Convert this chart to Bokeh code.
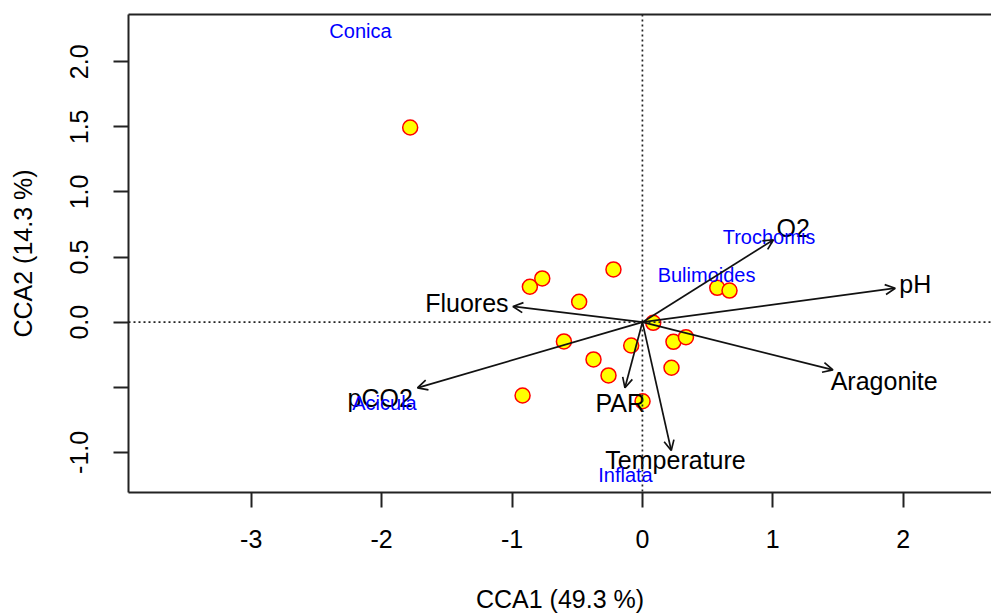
import numpy as np
from bokeh.plotting import figure
from bokeh.models import (ColumnDataSource, Range1d, Span, Arrow, OpenHead,
                          LinearAxis, FixedTicker)
from bokeh.core.properties import value
from bokeh.embed import file_html
from bokeh.resources import INLINE

# ---------------- data ----------------
site_x = [-1.781, -0.863, -0.768, -0.222, -0.485, 0.574, 0.668, 0.083, -0.602,
          -0.086, 0.238, 0.334, -0.375, -0.260, 0.223, -0.919, 0.001]
site_y = [1.495, 0.272, 0.336, 0.405, 0.157, 0.264, 0.243, -0.005, -0.148,
          -0.179, -0.151, -0.115, -0.286, -0.409, -0.350, -0.563, -0.607]

env_names = ["O2", "pH", "Aragonite", "Temperature", "PAR", "pCO2", "Fluores"]
env_x = [1.005, 1.939, 1.461, 0.221, -0.134, -1.725, -0.993]
env_y = [0.633, 0.261, -0.366, -0.985, -0.504, -0.504, 0.121]
env_label_x = [1.156, 2.092, 1.854, 0.254, -0.170, -2.011, -1.346]
env_label_y = [0.720, 0.297, -0.455, -1.062, -0.617, -0.586, 0.144]

species_names = ["Conica", "Trochomis", "Bulimoides", "Acicula", "Inflata"]
species_x = [-2.162, 0.971, 0.492, -1.978, -0.130]
species_y = [2.233, 0.658, 0.366, -0.624, -1.177]

x_ticks = [-3, -2, -1, 0, 1, 2]
x_tick_labels = ["-3", "-2", "-1", "0", "1", "2"]
y_ticks = [-1.0, -0.5, 0.0, 0.5, 1.0, 1.5, 2.0]
y_tick_labels = ["-1.0", "", "0.0", "0.5", "1.0", "1.5", "2.0"]

x_title = "CCA1 (49.3 %)"
y_title = "CCA2 (14.3 %)"

# ---------------- figure ----------------
FONT = "Liberation Sans"

p = figure(width=991, height=615,
           x_range=Range1d(-3.941, 2.677), y_range=Range1d(-1.308, 2.363),
           output_backend="svg", toolbar_location=None,
           min_border_left=128, min_border_right=0, min_border_top=14,
           min_border_bottom=123, x_axis_location=None, y_axis_location=None)
p.grid.visible = False
p.outline_line_color = None
p.background_fill_color = "white"
p.border_fill_color = "white"

# bottom axis
xa = LinearAxis(ticker=FixedTicker(ticks=x_ticks),
                major_label_overrides={t: l for t, l in zip(x_ticks, x_tick_labels)},
                axis_label=x_title)
# left axis
ya = LinearAxis(ticker=FixedTicker(ticks=y_ticks),
                major_label_overrides={t: l for t, l in zip(y_ticks, y_tick_labels)},
                axis_label=y_title, major_label_orientation="vertical")
for ax in (xa, ya):
    ax.axis_line_color = "#222222"
    ax.axis_line_width = 2
    ax.major_tick_line_color = "#222222"
    ax.major_tick_line_width = 2
    ax.major_tick_in = 0
    ax.major_tick_out = 15
    ax.minor_tick_line_color = None
    ax.major_label_text_font = FONT
    ax.major_label_text_font_size = "25px"
    ax.major_label_text_color = "black"
    ax.axis_label_text_font = FONT
    ax.axis_label_text_font_size = "25px"
    ax.axis_label_text_font_style = "normal"
    ax.axis_label_text_color = "black"
xa.major_label_standoff = 22
xa.axis_label_standoff = 34
ya.major_label_standoff = 25
ya.axis_label_standoff = 31
p.add_layout(xa, "below")
p.add_layout(ya, "left")

# top frame line
ta = LinearAxis(ticker=FixedTicker(ticks=[]), major_tick_out=0, major_tick_in=0,
                major_label_standoff=0, major_label_text_font_size="0px",
                minor_tick_line_color=None, axis_line_color="#222222",
                axis_line_width=2)
p.add_layout(ta, "above")

# dotted cross-hair at origin
for dim, loc in (("width", 0), ("height", 0)):
    p.add_layout(Span(location=loc, dimension=dim, line_color="#222222",
                      line_width=1.7, line_dash="2 3"))

# environmental arrows
env_src = ColumnDataSource(dict(x0=[0] * len(env_x), y0=[0] * len(env_y),
                                x1=env_x, y1=env_y))
p.add_layout(Arrow(source=env_src, x_start="x0", y_start="y0", x_end="x1", y_end="y1",
                   line_color="#111111", line_width=1.7,
                   end=OpenHead(size=10, line_color="#111111", line_width=1.7)))

# sites
p.scatter(site_x, site_y, size=15, fill_color="yellow", line_color="red",
          line_width=1.5, marker="circle")

# env labels
p.text(x=env_label_x, y=env_label_y, text=env_names, text_font=value(FONT),
       text_font_size="25px", text_color="black", text_align="center",
       text_baseline="middle")

# species labels
p.text(x=species_x, y=species_y, text=species_names, text_font=value(FONT),
       text_font_size="20px", text_color="blue", text_align="center",
       text_baseline="middle")

open("out.html", "w").write(file_html(p, INLINE))
